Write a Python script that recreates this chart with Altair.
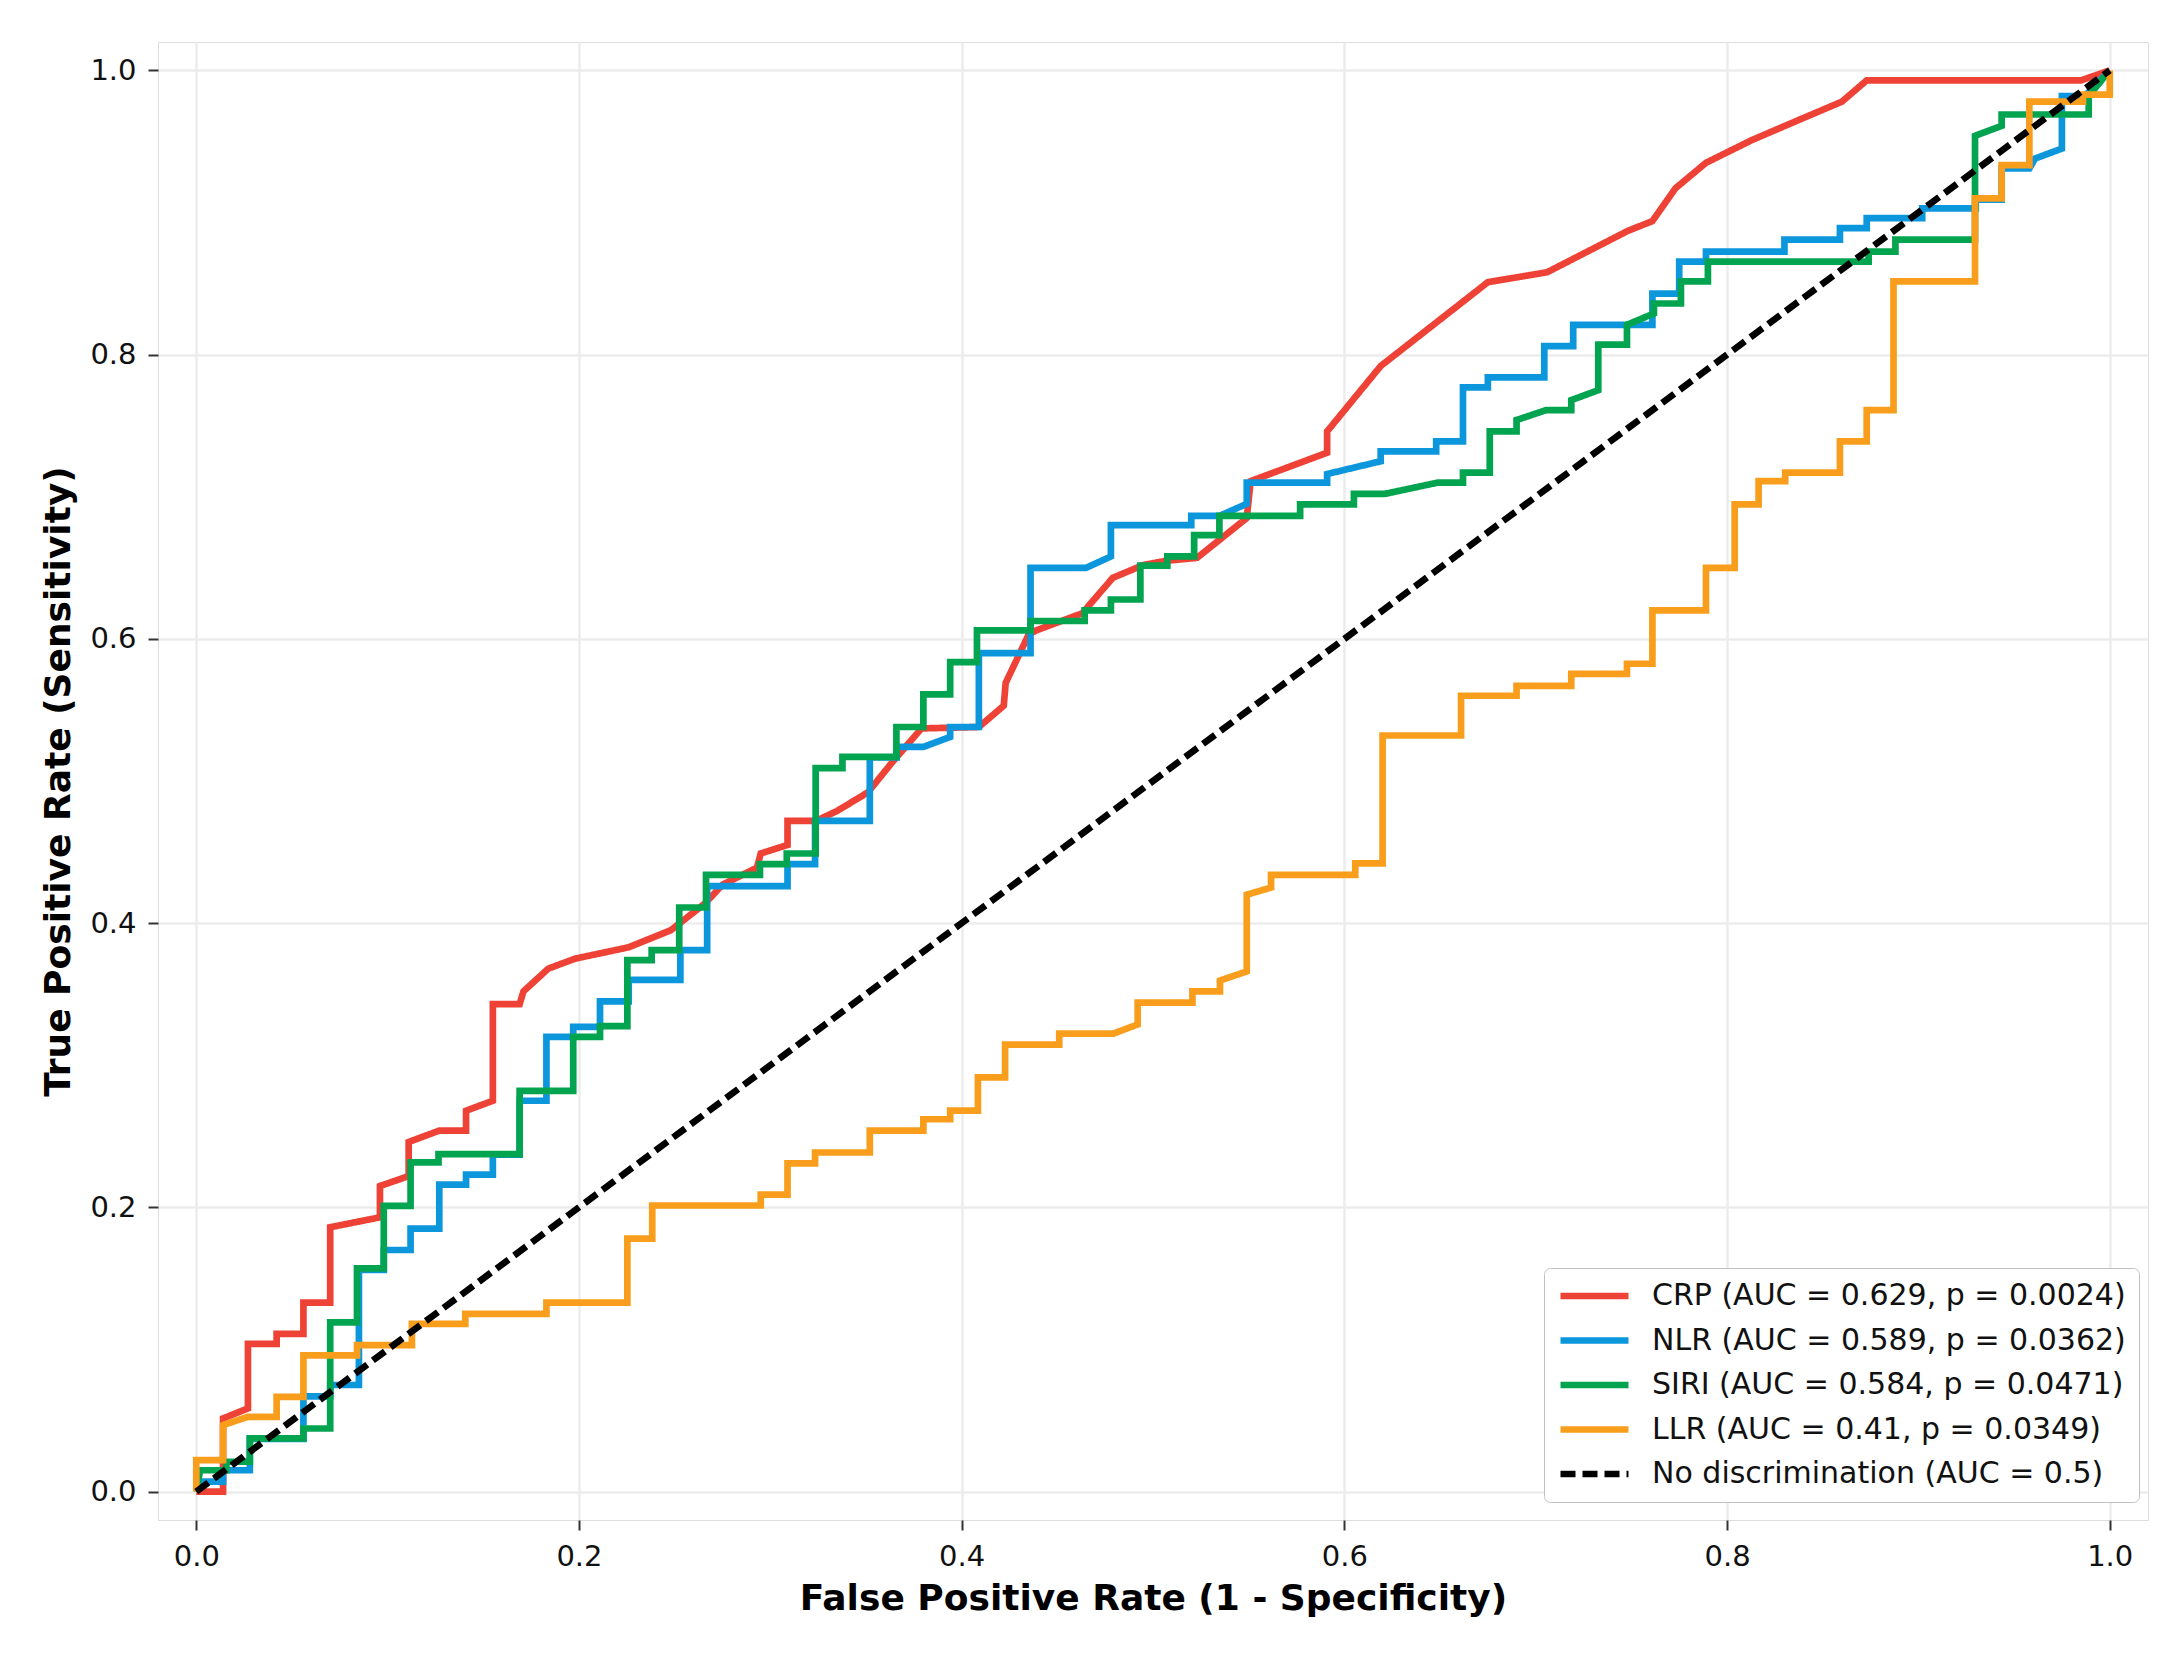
import altair as alt
import pandas as pd

# ---- data ----
crp_fpr = [0, 0.014, 0.014, 0.027, 0.027, 0.042, 0.042, 0.056, 0.056, 0.070, 0.070, 0.096, 0.096, 0.111, 0.111, 0.127, 0.141, 0.141, 0.155, 0.155, 0.169, 0.171, 0.184, 0.198, 0.212, 0.226, 0.248, 0.266, 0.275, 0.293, 0.295, 0.309, 0.309, 0.324, 0.335, 0.351, 0.363, 0.379, 0.409, 0.422, 0.423, 0.435, 0.439, 0.463, 0.479, 0.495, 0.507, 0.523, 0.549, 0.551, 0.591, 0.591, 0.619, 0.675, 0.706, 0.748, 0.761, 0.773, 0.789, 0.813, 0.839, 0.860, 0.873, 0.985, 1.0]
crp_tpr = [0, 0, 0.0515, 0.0585, 0.104, 0.104, 0.111, 0.111, 0.133, 0.133, 0.186, 0.193, 0.215, 0.222, 0.246, 0.254, 0.254, 0.268, 0.275, 0.343, 0.343, 0.352, 0.368, 0.375, 0.379, 0.383, 0.395, 0.414, 0.427, 0.439, 0.449, 0.455, 0.472, 0.472, 0.479, 0.492, 0.512, 0.537, 0.538, 0.553, 0.569, 0.603, 0.606, 0.618, 0.643, 0.652, 0.655, 0.657, 0.685, 0.711, 0.731, 0.746, 0.792, 0.851, 0.858, 0.887, 0.894, 0.917, 0.935, 0.951, 0.966, 0.978, 0.993, 0.993, 1.0]

nlr_fpr = [0, 0.002, 0.014, 0.014, 0.028, 0.028, 0.056, 0.056, 0.070, 0.070, 0.085, 0.085, 0.098, 0.098, 0.112, 0.112, 0.127, 0.127, 0.141, 0.141, 0.155, 0.155, 0.169, 0.169, 0.183, 0.183, 0.197, 0.197, 0.211, 0.211, 0.226, 0.226, 0.253, 0.253, 0.267, 0.267, 0.309, 0.309, 0.3234, 0.3234, 0.352, 0.352, 0.366, 0.366, 0.380, 0.394, 0.394, 0.409, 0.409, 0.436, 0.436, 0.465, 0.478, 0.478, 0.520, 0.520, 0.5347, 0.549, 0.549, 0.591, 0.591, 0.619, 0.619, 0.648, 0.648, 0.662, 0.662, 0.675, 0.675, 0.7045, 0.7045, 0.7196, 0.7196, 0.761, 0.761, 0.775, 0.775, 0.789, 0.789, 0.830, 0.830, 0.859, 0.859, 0.873, 0.873, 0.902, 0.902, 0.930, 0.930, 0.9435, 0.9435, 0.958, 0.961, 0.975, 0.975, 0.987, 1.0]
nlr_tpr = [0, 0.007, 0.007, 0.015, 0.015, 0.037, 0.037, 0.067, 0.067, 0.075, 0.075, 0.156, 0.156, 0.170, 0.170, 0.185, 0.185, 0.216, 0.216, 0.223, 0.223, 0.237, 0.237, 0.275, 0.275, 0.320, 0.320, 0.327, 0.327, 0.345, 0.345, 0.360, 0.360, 0.381, 0.381, 0.426, 0.426, 0.4415, 0.4415, 0.472, 0.472, 0.5166, 0.5166, 0.524, 0.524, 0.531, 0.538, 0.538, 0.590, 0.590, 0.650, 0.650, 0.658, 0.680, 0.680, 0.6865, 0.6865, 0.695, 0.710, 0.710, 0.716, 0.725, 0.732, 0.732, 0.739, 0.739, 0.777, 0.777, 0.784, 0.784, 0.806, 0.806, 0.821, 0.821, 0.843, 0.843, 0.8655, 0.8655, 0.8725, 0.8725, 0.881, 0.881, 0.889, 0.889, 0.896, 0.896, 0.903, 0.903, 0.909, 0.909, 0.931, 0.931, 0.938, 0.945, 0.982, 0.982, 1.0]

siri_fpr = [0, 0.002, 0.0157, 0.0157, 0.028, 0.028, 0.056, 0.056, 0.070, 0.070, 0.084, 0.084, 0.098, 0.098, 0.112, 0.112, 0.1266, 0.1266, 0.169, 0.169, 0.197, 0.197, 0.211, 0.211, 0.2253, 0.2253, 0.238, 0.238, 0.2524, 0.2524, 0.2664, 0.2664, 0.2946, 0.2946, 0.3086, 0.3086, 0.3237, 0.3237, 0.3377, 0.3377, 0.3659, 0.3659, 0.380, 0.380, 0.394, 0.394, 0.408, 0.408, 0.436, 0.436, 0.4643, 0.4643, 0.478, 0.478, 0.4934, 0.4934, 0.5075, 0.5075, 0.5215, 0.5215, 0.5347, 0.5347, 0.5769, 0.5769, 0.605, 0.605, 0.621, 0.649, 0.662, 0.662, 0.676, 0.676, 0.690, 0.690, 0.7055, 0.7186, 0.7186, 0.7327, 0.7327, 0.7477, 0.7477, 0.7618, 0.7618, 0.7759, 0.7759, 0.790, 0.790, 0.874, 0.874, 0.888, 0.888, 0.9296, 0.9296, 0.9435, 0.9435, 0.989, 0.989, 1.0]
siri_tpr = [0, 0.015, 0.015, 0.021, 0.021, 0.0374, 0.0374, 0.0444, 0.0444, 0.119, 0.119, 0.157, 0.157, 0.201, 0.201, 0.2316, 0.2316, 0.2374, 0.2374, 0.282, 0.282, 0.320, 0.320, 0.3275, 0.3275, 0.374, 0.374, 0.381, 0.381, 0.411, 0.411, 0.434, 0.434, 0.4415, 0.4415, 0.449, 0.449, 0.509, 0.509, 0.517, 0.517, 0.538, 0.538, 0.561, 0.561, 0.5836, 0.5836, 0.606, 0.606, 0.6126, 0.6126, 0.620, 0.620, 0.6277, 0.6277, 0.6516, 0.6516, 0.658, 0.658, 0.673, 0.673, 0.6865, 0.6865, 0.6947, 0.6947, 0.702, 0.702, 0.710, 0.710, 0.717, 0.717, 0.746, 0.746, 0.754, 0.761, 0.761, 0.768, 0.775, 0.807, 0.807, 0.821, 0.829, 0.836, 0.836, 0.8515, 0.8515, 0.8655, 0.8655, 0.8725, 0.8725, 0.881, 0.881, 0.954, 0.961, 0.969, 0.969, 0.982, 1.0]

llr_fpr = [0, 0, 0.014, 0.014, 0.027, 0.042, 0.042, 0.056, 0.056, 0.084, 0.084, 0.1127, 0.1127, 0.1406, 0.1406, 0.183, 0.183, 0.2253, 0.2253, 0.2383, 0.2383, 0.295, 0.295, 0.309, 0.309, 0.3234, 0.3234, 0.352, 0.352, 0.380, 0.380, 0.394, 0.394, 0.4085, 0.4085, 0.4227, 0.4227, 0.451, 0.451, 0.4794, 0.492, 0.492, 0.5206, 0.5206, 0.535, 0.535, 0.549, 0.549, 0.5617, 0.5617, 0.6057, 0.6057, 0.620, 0.620, 0.661, 0.661, 0.690, 0.690, 0.7186, 0.7186, 0.7477, 0.7477, 0.761, 0.761, 0.789, 0.789, 0.804, 0.804, 0.8165, 0.8165, 0.8304, 0.8304, 0.859, 0.859, 0.873, 0.873, 0.887, 0.887, 0.9296, 0.9296, 0.9435, 0.9435, 0.958, 0.958, 0.986, 0.986, 1.0, 1.0]
llr_tpr = [0, 0.0222, 0.0222, 0.0468, 0.0526, 0.0526, 0.0667, 0.0667, 0.0959, 0.0959, 0.103, 0.103, 0.118, 0.118, 0.125, 0.125, 0.133, 0.133, 0.178, 0.178, 0.2013, 0.2013, 0.209, 0.209, 0.231, 0.231, 0.2386, 0.2386, 0.254, 0.254, 0.262, 0.262, 0.268, 0.268, 0.2914, 0.2914, 0.3145, 0.3145, 0.3223, 0.3223, 0.3287, 0.344, 0.344, 0.352, 0.352, 0.3596, 0.366, 0.420, 0.425, 0.434, 0.434, 0.442, 0.442, 0.532, 0.532, 0.560, 0.560, 0.567, 0.567, 0.5754, 0.5754, 0.5825, 0.5825, 0.620, 0.620, 0.650, 0.650, 0.6947, 0.6947, 0.711, 0.711, 0.717, 0.717, 0.739, 0.739, 0.761, 0.761, 0.8515, 0.8515, 0.910, 0.910, 0.9333, 0.9333, 0.978, 0.978, 0.983, 0.983, 1.0]

ref_fpr = [0.0, 1.0]
ref_tpr = [0.0, 1.0]

labels = [
    "CRP (AUC = 0.629, p = 0.0024)",
    "NLR (AUC = 0.589, p = 0.0362)",
    "SIRI (AUC = 0.584, p = 0.0471)",
    "LLR (AUC = 0.41, p = 0.0349)",
    "No discrimination (AUC = 0.5)",
]
colors = ["#EE4236", "#0C97DC", "#03A450", "#F89E1C", "#000000"]
dashes = [[1, 0], [1, 0], [1, 0], [1, 0], [15, 7]]
widths = [6.7, 6.7, 6.7, 6.7, 4]
ticks = [0.0, 0.2, 0.4, 0.6, 0.8, 1.0]

series = [(crp_fpr, crp_tpr), (nlr_fpr, nlr_tpr), (siri_fpr, siri_tpr),
          (llr_fpr, llr_tpr), (ref_fpr, ref_tpr)]
rows = []
for lab, (fx, ty) in zip(labels, series):
    for i, (a, b) in enumerate(zip(fx, ty)):
        rows.append({"series": lab, "fpr": a, "tpr": b, "idx": i})
df = pd.DataFrame(rows)

font = "DejaVu Sans"

x_enc = alt.X("fpr:Q", scale=alt.Scale(domain=[-0.02, 1.02], nice=False, zero=False),
              axis=alt.Axis(title="False Positive Rate (1 - Specificity)", values=ticks, format=".1f",
                            labelFontSize=29, titleFontSize=36, titleFontWeight="bold",
                            labelPadding=12, titlePadding=10, tickSize=10, tickWidth=2,
                            tickColor="#333333", domain=False, labelColor="#111111",
                            titleColor="#000000", labelFont=font, titleFont=font,
                            gridColor="#ececec", gridWidth=2.5))
y_enc = alt.Y("tpr:Q", scale=alt.Scale(domain=[-0.02, 1.02], nice=False, zero=False),
              axis=alt.Axis(title="True Positive Rate (Sensitivity)", values=ticks, format=".1f",
                            labelFontSize=29, titleFontSize=36, titleFontWeight="bold",
                            labelPadding=12, titlePadding=12, tickSize=10, tickWidth=2,
                            tickColor="#333333", domain=False, labelColor="#111111",
                            titleColor="#000000", labelFont=font, titleFont=font,
                            gridColor="#ececec", gridWidth=2.5))

legend = alt.Legend(title=None, orient="none", legendX=1386, legendY=1226,
                    symbolType="stroke", symbolSize=4624, clipHeight=30,
                    labelFontSize=30, labelFont=font, labelColor="#111111",
                    labelOffset=20, labelLimit=1000, rowPadding=14.5, padding=13,
                    fillColor="#ffffff", strokeColor="#c0c0c0", cornerRadius=6)

color_enc = alt.Color("series:N", scale=alt.Scale(domain=labels, range=colors), legend=legend)
dash_enc = alt.StrokeDash("series:N", scale=alt.Scale(domain=labels, range=dashes), legend=legend)
width_enc = alt.StrokeWidth("series:N", scale=alt.Scale(domain=labels, range=widths), legend=legend)

layers = []
for lab in labels:
    layers.append(
        alt.Chart(df).transform_filter(alt.datum.series == lab).mark_line(strokeJoin="miter").encode(
            x=x_enc, y=y_enc, color=color_enc, strokeDash=dash_enc, strokeWidth=width_enc,
            order=alt.Order("idx:Q"),
        )
    )

chart = alt.layer(*layers).properties(
    width=1990, height=1478,
    autosize=alt.AutoSizeParams(type="none"),
    padding={"left": 150, "top": 34, "right": 10, "bottom": 120},
).configure_view(stroke="#333333", strokeWidth=2.5).configure(background="white")

chart.save("out.html", embed_options={"renderer": "svg", "actions": False})
